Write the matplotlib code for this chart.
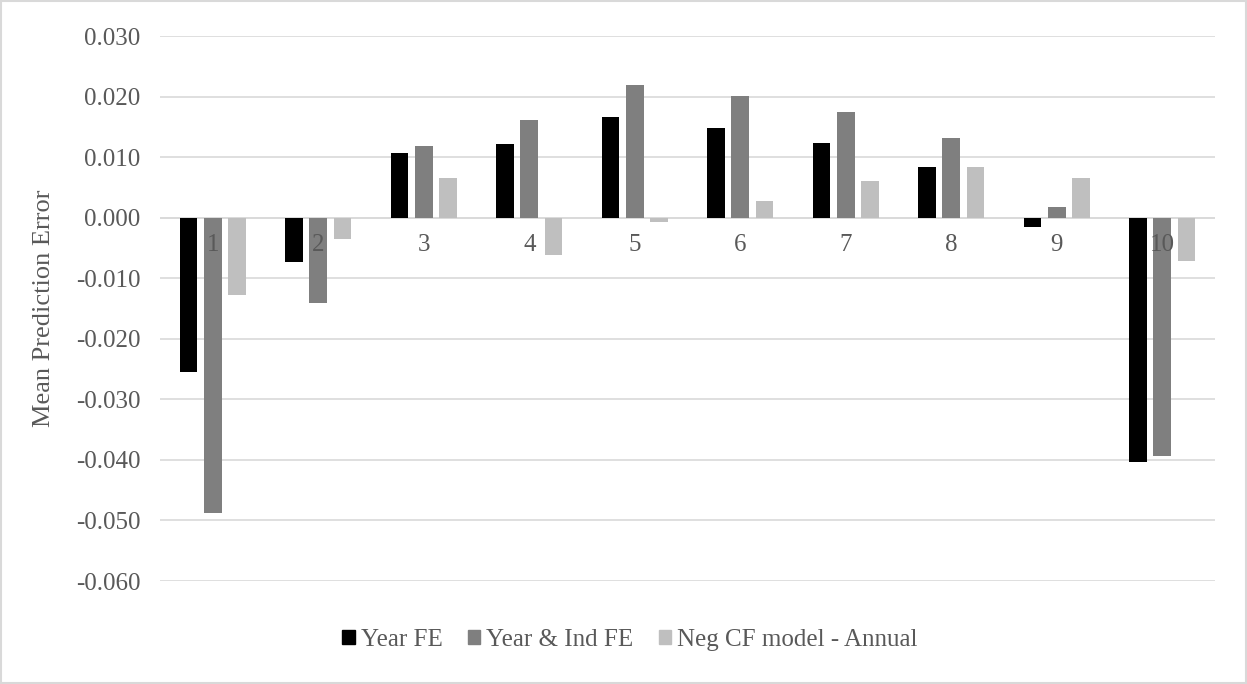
import matplotlib
matplotlib.use("Agg")
import matplotlib.pyplot as plt
import numpy as np
from matplotlib.patches import Rectangle

categories = ["1", "2", "3", "4", "5", "6", "7", "8", "9", "10"]
year_fe = [-0.0255, -0.0073, 0.0106, 0.0121, 0.0167, 0.0148, 0.0123, 0.0083, -0.0015, -0.0403]
year_ind_fe = [-0.0488, -0.0141, 0.0118, 0.0161, 0.0219, 0.0201, 0.0174, 0.0131, 0.0018, -0.0393]
neg_cf = [-0.0128, -0.0036, 0.0066, -0.0061, -0.0007, 0.0028, 0.0060, 0.0083, 0.0066, -0.0071]
series_names = ["Year FE", "Year & Ind FE", "Neg CF model - Annual"]
colors = ["#000000", "#7f7f7f", "#bfbfbf"]
yticks = [0.03, 0.02, 0.01, 0.0, -0.01, -0.02, -0.03, -0.04, -0.05, -0.06]

plt.rcParams['font.family'] = ['Liberation Serif', 'DejaVu Serif']
text_color = "#595959"
fs = 18

fig = plt.figure(figsize=(12.47, 6.84), dpi=100)
ax = fig.add_axes([160/1247, 1-581/684, (1215-160)/1247, (581-36)/684])

x = np.arange(len(categories))
w = 0.17
off = 0.23
for k, (vals, name, c) in enumerate(zip([year_fe, year_ind_fe, neg_cf], series_names, colors)):
    ax.bar(x + (k-1)*off, vals, width=w, color=c, label=name, zorder=3)

ax.set_xlim(-0.5, len(categories)-0.5)
ax.set_ylim(-0.06, 0.03)
ax.set_yticks(yticks)
ax.set_yticklabels([f"{v:.3f}" for v in yticks], fontsize=fs, color=text_color)
ax.tick_params(axis='y', length=0, pad=14)
ax.set_xticks([])
ax.grid(axis='y', color="#d9d9d9", linewidth=1.2, zorder=0)
for s in ax.spines.values():
    s.set_visible(False)
ax.axhline(0, color="#d9d9d9", linewidth=1.2, zorder=1)

for i, c in enumerate(categories):
    ax.annotate(c, xy=(x[i], 0), xytext=(0, -27), textcoords='offset pixels',
                ha='center', va='center', fontsize=fs, color=text_color, zorder=4)

ax.set_ylabel("Mean Prediction Error", fontsize=19, color=text_color)
ax.yaxis.set_label_coords(55/1247, 1-308/684, transform=fig.transFigure)

handles = [Rectangle((0, 0), 1, 1, color=c) for c in colors]
leg = fig.legend(handles, series_names, loc='center', bbox_to_anchor=(630/1247, 1-640/684),
                 ncol=3, frameon=False, fontsize=fs, handlelength=0.5, handleheight=0.5,
                 handletextpad=0.25, columnspacing=1.0, labelcolor=text_color)

fig.patches.append(Rectangle((0.001, 0.001), 0.998, 0.998, transform=fig.transFigure,
                             fill=False, edgecolor="#d9d9d9", linewidth=1.5))

fig.savefig("out.png", dpi=100)
